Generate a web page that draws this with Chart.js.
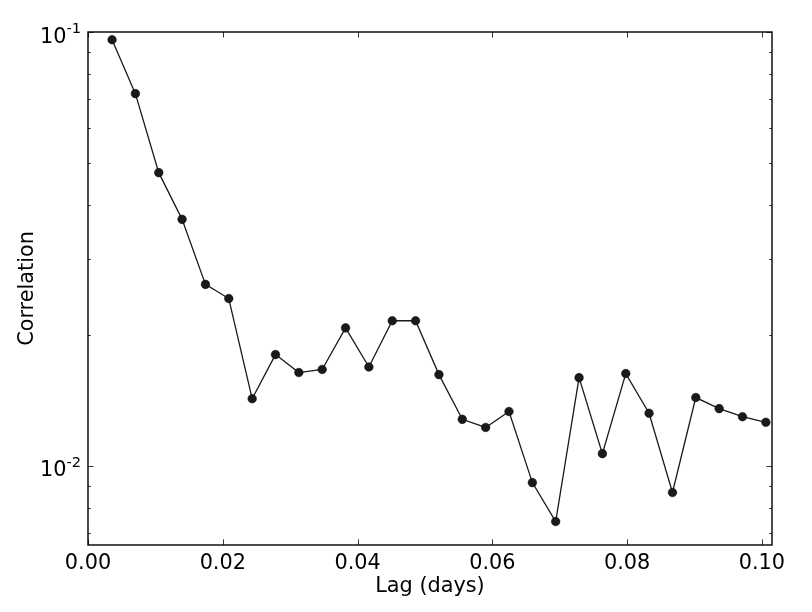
<!DOCTYPE html>
<html><head><meta charset="utf-8">
<script src="https://cdn.jsdelivr.net/npm/chart.js@4.4.0/dist/chart.umd.min.js"></script>
<style>html,body{margin:0;padding:0;background:#fff;}#wrap{width:812px;height:612px;position:relative;}</style>
</head><body><div id="wrap"><canvas id="c" width="812" height="612"></canvas></div>
<script>
const lagDays = [0.00357, 0.00703, 0.01050, 0.01396, 0.01743, 0.02089, 0.02436, 0.02782, 0.03129, 0.03475,
  0.03822, 0.04168, 0.04515, 0.04861, 0.05208, 0.05554, 0.05901, 0.06247, 0.06594, 0.06940,
  0.07287, 0.07633, 0.07980, 0.08326, 0.08673, 0.09019, 0.09366, 0.09712, 0.10059];
const correlation = [0.0960, 0.0721, 0.0474, 0.0370, 0.0262, 0.0243, 0.01428, 0.01805, 0.01641, 0.01668,
  0.0208, 0.0169, 0.0216, 0.0216, 0.01623, 0.01280, 0.01226, 0.01334, 0.00915, 0.00744,
  0.01597, 0.01067, 0.01632, 0.01322, 0.00868, 0.01437, 0.01355, 0.01298, 0.01260];
const xTickValues = [0, 0.02, 0.04, 0.06, 0.08, 0.10];
const xTickLabels = ['0.00', '0.02', '0.04', '0.06', '0.08', '0.10'];
const yMajorTicks = [0.01, 0.1];
const yMajorExponents = ['-2', '-1'];
const yMinorTicks = [0.007, 0.008, 0.009, 0.02, 0.03, 0.04, 0.05, 0.06, 0.07, 0.08, 0.09];
const xTitle = 'Lag (days)';
const yTitle = 'Correlation';

const FONT = '"DejaVu Sans", sans-serif';
const FS = 20.8, SFS = 14.6;

const axesPlugin = {
  id: 'mplAxes',
  afterDraw(chart) {
    const ctx = chart.ctx;
    const a = chart.chartArea;
    const xs = chart.scales.x, ys = chart.scales.y;
    ctx.save();
    ctx.strokeStyle = '#000';
    ctx.lineWidth = 0.8;
    const majLen = 5.6, minLen = 2.8;
    ctx.beginPath();
    xTickValues.forEach(v => {
      const px = Math.round(xs.getPixelForValue(v)) + 0.5;
      ctx.moveTo(px, a.bottom); ctx.lineTo(px, a.bottom - majLen);
      ctx.moveTo(px, a.top); ctx.lineTo(px, a.top + majLen);
    });
    yMajorTicks.forEach(v => {
      const py = Math.round(ys.getPixelForValue(v)) + 0.5;
      ctx.moveTo(a.left, py); ctx.lineTo(a.left + majLen, py);
      ctx.moveTo(a.right, py); ctx.lineTo(a.right - majLen, py);
    });
    yMinorTicks.forEach(v => {
      const py = Math.round(ys.getPixelForValue(v)) + 0.5;
      ctx.moveTo(a.left, py); ctx.lineTo(a.left + minLen, py);
      ctx.moveTo(a.right, py); ctx.lineTo(a.right - minLen, py);
    });
    ctx.stroke();
    ctx.lineWidth = 1.4;
    ctx.strokeRect(a.left, a.top, a.right - a.left, a.bottom - a.top);
    ctx.fillStyle = '#000';
    ctx.font = FS + 'px ' + FONT;
    ctx.textAlign = 'center';
    ctx.textBaseline = 'alphabetic';
    xTickValues.forEach((v, i) => {
      ctx.fillText(xTickLabels[i], xs.getPixelForValue(v), a.bottom + 23.5);
    });
    yMajorTicks.forEach((v, i) => {
      const py = ys.getPixelForValue(v);
      ctx.font = SFS + 'px ' + FONT;
      const supW = ctx.measureText(yMajorExponents[i]).width;
      ctx.font = FS + 'px ' + FONT;
      const baseW = ctx.measureText('10').width;
      const supX = a.left - 7 - supW;
      const baseX = supX - baseW;
      ctx.textAlign = 'left';
      ctx.fillText('10', baseX, py + 10.5);
      ctx.font = SFS + 'px ' + FONT;
      ctx.fillText(yMajorExponents[i], supX, py + 1);
    });
    ctx.font = FS + 'px ' + FONT;
    ctx.textAlign = 'center';
    ctx.fillText(xTitle, (a.left + a.right) / 2, 591.5);
    ctx.save();
    ctx.translate(33, (a.top + a.bottom) / 2);
    ctx.rotate(-Math.PI / 2);
    ctx.fillText(yTitle, 0, 0);
    ctx.restore();
    ctx.restore();
  }
};

new Chart(document.getElementById('c'), {
  type: 'scatter',
  data: {
    datasets: [{
      data: lagDays.map((x, i) => ({ x: x, y: correlation[i] })),
      showLine: true,
      borderColor: '#1a1a1a',
      borderWidth: 1.3,
      backgroundColor: '#1a1a1a',
      pointBackgroundColor: '#1a1a1a',
      pointBorderColor: '#000',
      pointBorderWidth: 0.5,
      pointRadius: 4.3,
      tension: 0
    }]
  },
  options: {
    responsive: false,
    animation: false,
    devicePixelRatio: 1,
    layout: { padding: { left: 88, top: 32, right: 40, bottom: 67 } },
    scales: {
      x: { type: 'linear', min: 0, max: 0.1015, display: false },
      y: { type: 'logarithmic', min: 0.00657, max: 0.1, display: false }
    },
    plugins: { legend: { display: false }, tooltip: { enabled: false } },
    clip: false
  },
  plugins: [axesPlugin]
});
</script></body></html>
